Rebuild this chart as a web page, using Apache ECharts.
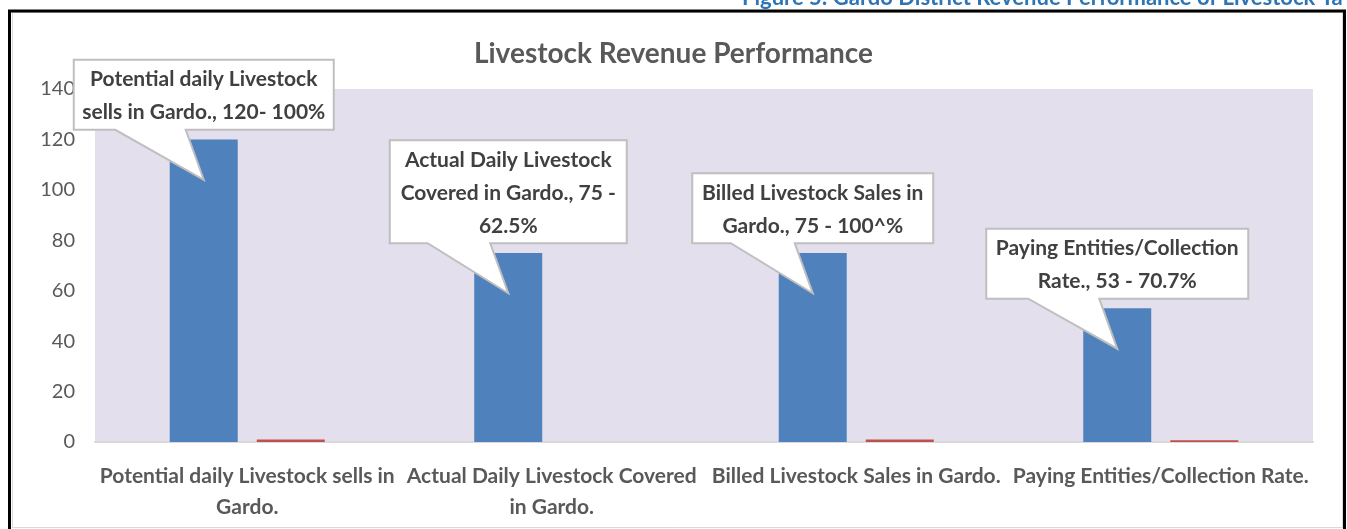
<!DOCTYPE html>
<html>
<head>
<meta charset="utf-8">
<script src="https://cdn.jsdelivr.net/npm/echarts@6/dist/echarts.min.js"></script>
<style>
html,body{margin:0;padding:0;background:#fff;}
#chart{width:1347px;height:529px;}
</style>
</head>
<body>
<div id="chart"></div>
<script>
// ---- data ----
var categories = [
  "Potential daily Livestock sells in\nGardo.",
  "Actual Daily Livestock Covered\nin Gardo.",
  "Billed Livestock Sales in Gardo.",
  "Paying Entities/Collection Rate."
];
var livestockValues = [120, 75, 75, 53];
var rateValues = [1, 0, 1, 0.707];
var calloutTexts = [
  "Potential daily Livestock\nsells in Gardo., 120- 100%",
  "Actual Daily Livestock\nCovered in Gardo., 75 -\n62.5%",
  "Billed Livestock Sales in\nGardo., 75 - 100^%",
  "Paying Entities/Collection\nRate., 53 - 70.7%"
];
var yTicks = [0, 20, 40, 60, 80, 100, 120, 140];
var chartTitle = "Livestock Revenue Performance";
var figureCaption = "Figure 5: Gardo District Revenue Performance of Livestock Ta";

// ---- styles (not data) ----
var calloutBoxWidths = [260, 237, 241, 262];
var FONT = 'Lato, "Open Sans", sans-serif';
var BAR_W = 68, BAR_GAP_PX = 19;

var chart = echarts.init(document.getElementById('chart'), null, {renderer: 'canvas'});

var calloutData = livestockValues.map(function (v, i) { return [i, v]; });

var option = {
  animation: false,
  backgroundColor: '#ffffff',
  title: {
    text: chartTitle,
    left: 'center',
    top: 35,
    textStyle: {fontFamily: FONT, fontSize: 28, fontWeight: 'bold', color: '#595959'}
  },
  grid: {left: 95, right: 34, top: 89, bottom: 87, show: true, backgroundColor: '#E4DFEC', borderWidth: 0},
  xAxis: {
    type: 'category',
    data: categories,
    axisLine: {show: true, lineStyle: {color: '#D9D9D9', width: 2}},
    axisTick: {show: false},
    axisLabel: {
      interval: 0, margin: 19, fontFamily: FONT, fontSize: 21, fontWeight: 'bold',
      color: '#595959', lineHeight: 31
    }
  },
  yAxis: {
    type: 'value',
    min: yTicks[0],
    max: yTicks[yTicks.length - 1],
    interval: yTicks[1] - yTicks[0],
    axisLine: {show: false},
    axisTick: {show: false},
    splitLine: {show: false},
    axisLabel: {margin: 20, fontFamily: FONT, fontSize: 20, color: '#595959'}
  },
  series: [
    {
      type: 'bar', data: livestockValues, barWidth: BAR_W, barGap: '28%',
      itemStyle: {color: '#4F81BD'}
    },
    {
      type: 'bar', data: rateValues, barWidth: BAR_W, barGap: '28%',
      itemStyle: {color: '#C0504D'}
    },
    {
      type: 'custom',
      data: calloutData,
      z: 10,
      clip: false,
      renderItem: function (params, api) {
        var i = params.dataIndex;
        var p = api.coord([api.value(0), api.value(1) - 16]);
        var tipX = p[0] - (BAR_W + BAR_GAP_PX) / 2, tipY = p[1];
        var text = calloutTexts[i];
        var nLines = text.split('\n').length;
        var w = calloutBoxWidths[i];
        var h = nLines * 33 + 4;
        var cx = tipX;
        var bottom = tipY - 50;
        var top = bottom - h;
        var left = cx - w / 2, right = cx + w / 2;
        var bl = left + w * 0.16, br = cx - 18;
        return {
          type: 'group',
          children: [
            {
              type: 'polygon',
              shape: {points: [[left, top], [right, top], [right, bottom], [br, bottom], [tipX, tipY], [bl, bottom], [left, bottom]]},
              style: {fill: '#ffffff', stroke: '#BFBFBF', lineWidth: 2}
            },
            {
              type: 'text',
              style: {
                text: text, x: cx, y: top + h / 2 + 1, align: 'center', verticalAlign: 'middle',
                fontFamily: FONT, fontSize: 21, fontWeight: 'bold', lineHeight: 33, fill: '#404040'
              }
            }
          ]
        };
      }
    }
  ],
  graphic: [
    {
      type: 'rect', silent: true, z: -1,
      shape: {x: 12.5, y: 12.5, width: 1330, height: 515},
      style: {fill: 'none', stroke: '#D9D9D9', lineWidth: 1}
    },
    {
      type: 'polyline', silent: true,
      shape: {points: [[9.5, 540], [9.5, 11], [1344.5, 11], [1344.5, 540]]},
      style: {stroke: '#000000', lineWidth: 3, fill: 'none'}
    },
    {
      type: 'text', silent: true,
      style: {
        text: figureCaption, x: 742, y: -13, align: 'left', verticalAlign: 'top',
        fontFamily: FONT, fontSize: 22, fontWeight: 'bold', fill: '#2E75B6'
      }
    }
  ]
};
chart.setOption(option);
</script>
</body>
</html>
